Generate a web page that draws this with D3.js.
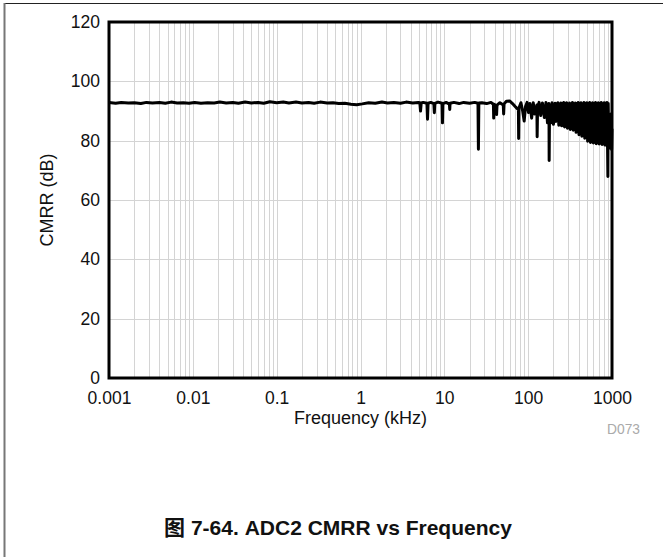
<!DOCTYPE html>
<html>
<head>
<meta charset="utf-8">
<script src="https://cdn.jsdelivr.net/npm/d3@7"></script>
<style>
  html, body { margin: 0; padding: 0; background: #fff; }
  svg { display: block; font-family: "Liberation Sans", Arial, "Noto Sans CJK SC", sans-serif; }
</style>
</head>
<body>
<svg id="chart" width="663" height="557"></svg>
<script>
// ---- Data ----
const xTickValues = [0.001, 0.01, 0.1, 1, 10, 100, 1000];
const xTickLabels = ["0.001", "0.01", "0.1", "1", "10", "100", "1000"];
const yTickValues = [0, 20, 40, 60, 80, 100, 120];
const yTickLabels = ["0", "20", "40", "60", "80", "100", "120"];

// flat region 1 Hz .. 5 kHz
const flatFreq = [0.001, 0.0012, 0.0014, 0.0017, 0.002, 0.0024, 0.0028, 0.0033, 0.004, 0.0047,
  0.0055, 0.0065, 0.0077, 0.009, 0.0105, 0.0125, 0.015, 0.018, 0.021, 0.025,
  0.03, 0.035, 0.042, 0.05, 0.06, 0.07, 0.083, 0.1, 0.12, 0.14,
  0.17, 0.2, 0.24, 0.28, 0.33, 0.4, 0.47, 0.55, 0.65, 0.77,
  0.9, 1.05, 1.25, 1.5, 1.8, 2.1, 2.5, 3.0, 3.5, 4.2,
  4.9];
const flatCmrr = [92.9, 92.6, 92.9, 92.7, 92.8, 92.5, 92.9, 92.7, 92.9, 92.6,
  93.0, 92.7, 92.8, 92.6, 92.9, 92.6, 92.8, 92.7, 93.0, 92.7,
  92.9, 92.6, 93.0, 92.7, 92.9, 92.6, 93.1, 92.8, 93.0, 92.7,
  93.0, 92.7, 92.9, 92.6, 93.0, 92.7, 92.8, 92.5, 92.6, 92.3,
  92.1, 92.4, 92.8, 92.6, 93.0, 92.7, 92.9, 92.6, 93.0, 92.7,
  92.9];

// mid region 5 kHz .. 200 kHz (isolated dips)
const midFreq = [5.1, 5.2, 5.3, 5.6, 6.2, 6.3, 6.4, 6.9, 7.5, 7.6,
  7.7, 8.4, 9.4, 9.5, 9.6, 10.5, 11.5, 11.6, 11.7, 13,
  15, 17, 20, 23, 25.2, 25.5, 25.8, 28, 32, 36,
  38.5, 38.8, 39.2, 41.6, 42, 42.5, 46, 50.5, 51, 51.6,
  55, 60, 65, 70, 74, 76.5, 77, 77.6, 82, 86,
  89.6, 93, 97, 101, 105, 110, 115, 120, 127, 128,
  129.5, 135, 141, 148, 156, 163, 170, 177, 178, 180,
  186, 193, 200];
const midCmrr = [92.8, 90.0, 92.7, 92.9, 92.6, 87.2, 92.6, 92.9, 92.5, 89.4,
  92.6, 93.0, 92.6, 86.0, 92.5, 92.9, 92.3, 90.5, 92.6, 92.9,
  92.5, 92.9, 92.6, 92.9, 92.6, 77.1, 92.7, 92.8, 92.5, 92.9,
  92.2, 87.6, 92.3, 91.8, 88.8, 92.0, 92.8, 92.0, 89.0, 92.4,
  93.3, 93.4, 92.5, 91.5, 90.8, 90.5, 80.7, 91.0, 92.8, 90.0,
  86.6, 91.5, 92.9, 89.5, 92.5, 87.6, 92.8, 89.0, 92.0, 81.3,
  91.0, 92.9, 88.5, 92.7, 87.8, 92.9, 86.0, 92.5, 73.3, 91.5,
  86.0, 92.8, 85.5];

// high region 200 kHz .. 1 MHz (dense ripple)
const hiFreq = [210, 214, 218, 223, 227, 232, 236, 241, 246, 251,
  256, 261, 266, 272, 277, 283, 288, 294, 300, 306,
  312, 318, 325, 331, 338, 345, 351, 358, 366, 373,
  380, 388, 396, 404, 412, 420, 428, 437, 446, 455,
  464, 473, 482, 492, 502, 512, 522, 533, 543, 554,
  565, 577, 588, 600, 612, 624, 637, 649, 662, 676,
  689, 703, 717, 731, 746, 761, 776, 792, 808, 824,
  840, 857, 874, 885, 893, 901, 915, 935, 955, 975,
  990, 1000];
const hiCmrr = [92.6, 86.5, 92.4, 88.0, 92.8, 85.2, 92.0, 89.0, 92.7, 85.0,
  92.5, 87.5, 92.9, 84.6, 92.3, 88.2, 92.8, 84.2, 92.0, 86.5,
  92.7, 83.8, 92.4, 87.0, 92.9, 83.5, 92.2, 85.8, 92.7, 82.8,
  92.5, 86.0, 92.9, 82.0, 92.1, 84.5, 92.8, 81.5, 92.4, 85.0,
  92.9, 80.8, 92.3, 83.5, 92.8, 79.8, 92.5, 82.0, 92.9, 79.4,
  92.2, 83.0, 92.8, 79.2, 92.5, 81.5, 92.9, 79.0, 92.3, 82.5,
  92.8, 78.9, 92.5, 81.0, 92.9, 78.7, 92.4, 82.0, 92.8, 78.5,
  92.6, 80.5, 92.9, 78.2, 67.9, 92.5, 79.5, 88.5, 77.5, 89.0,
  77.0, 84.0];

const freqKHz = flatFreq.concat(midFreq, hiFreq);
const cmrrDb = flatCmrr.concat(midCmrr, hiCmrr);
const n = Math.min(freqKHz.length, cmrrDb.length);
const series = d3.range(n).map(i => ({ f: freqKHz[i], v: cmrrDb[i] }));

// ---- Layout ----
const plot = { left: 109, top: 22, right: 612, bottom: 378 };
const svg = d3.select("#chart");

const x = d3.scaleLog().domain([0.001, 1000]).range([plot.left, plot.right]);
const y = d3.scaleLinear().domain([0, 120]).range([plot.bottom, plot.top]);

// outer frame
svg.append("line").attr("x1", 4).attr("x2", 663).attr("y1", 3.5).attr("y2", 3.5)
  .attr("stroke", "#222").attr("stroke-width", 1);
svg.append("line").attr("x1", 4.5).attr("x2", 4.5).attr("y1", 3).attr("y2", 557)
  .attr("stroke", "#777").attr("stroke-width", 2);

// grid
const minorTicks = [];
for (let e = -3; e < 3; e++) {
  for (let k = 1; k <= 9; k++) minorTicks.push(k * Math.pow(10, e));
}
minorTicks.push(1000);
const grid = svg.append("g");
grid.selectAll("line.vx").data(minorTicks).join("line")
  .attr("x1", d => Math.round(x(d)) + 0.5).attr("x2", d => Math.round(x(d)) + 0.5)
  .attr("y1", plot.top).attr("y2", plot.bottom)
  .attr("stroke", "#d4d4d4").attr("stroke-width", 1);
grid.selectAll("line.hy").data(yTickValues.slice(1, -1)).join("line")
  .attr("x1", plot.left).attr("x2", plot.right)
  .attr("y1", d => Math.round(y(d)) + 0.5).attr("y2", d => Math.round(y(d)) + 0.5)
  .attr("stroke", "#d4d4d4").attr("stroke-width", 1);

// data line
const line = d3.line().x(d => x(d.f)).y(d => y(d.v));
svg.append("path").datum(series)
  .attr("d", line)
  .attr("fill", "none").attr("stroke", "#000")
  .attr("stroke-width", 3).attr("stroke-linejoin", "round");

// plot border
svg.append("rect")
  .attr("x", plot.left).attr("y", plot.top)
  .attr("width", plot.right - plot.left).attr("height", plot.bottom - plot.top)
  .attr("fill", "none").attr("stroke", "#000").attr("stroke-width", 3);

// axes
const xAxis = d3.axisBottom(x).tickValues(xTickValues)
  .tickFormat((d, i) => xTickLabels[i]).tickSize(0).tickPadding(14);
const gx = svg.append("g").attr("transform", `translate(0,${plot.bottom})`).call(xAxis);
gx.select(".domain").remove();
gx.selectAll("text").attr("font-size", 17.5).attr("fill", "#111")
  .attr("font-family", "'Liberation Sans', Arial, sans-serif");

const yAxis = d3.axisLeft(y).tickValues(yTickValues)
  .tickFormat((d, i) => yTickLabels[i]).tickSize(0).tickPadding(9);
const gy = svg.append("g").attr("transform", `translate(${plot.left},0)`).call(yAxis);
gy.select(".domain").remove();
gy.selectAll("text").attr("font-size", 17.5).attr("fill", "#111")
  .attr("font-family", "'Liberation Sans', Arial, sans-serif");

// axis titles
svg.append("text").attr("x", (plot.left + plot.right) / 2).attr("y", 424)
  .attr("text-anchor", "middle").attr("font-size", 18).attr("fill", "#111")
  .text("Frequency (kHz)");
svg.append("text").attr("transform", `translate(53,${(plot.top + plot.bottom) / 2}) rotate(-90)`)
  .attr("text-anchor", "middle").attr("font-size", 18).attr("fill", "#111")
  .text("CMRR (dB)");

// figure id
svg.append("text").attr("x", 640).attr("y", 434)
  .attr("text-anchor", "end").attr("font-size", 13.8).attr("fill", "#aaa")
  .text("D073");

// caption
svg.append("text").attr("x", 338).attr("y", 535)
  .attr("text-anchor", "middle").attr("font-size", 21).attr("font-weight", "bold")
  .attr("fill", "#111")
  .text("图 7-64. ADC2 CMRR vs Frequency");
</script>
</body>
</html>
